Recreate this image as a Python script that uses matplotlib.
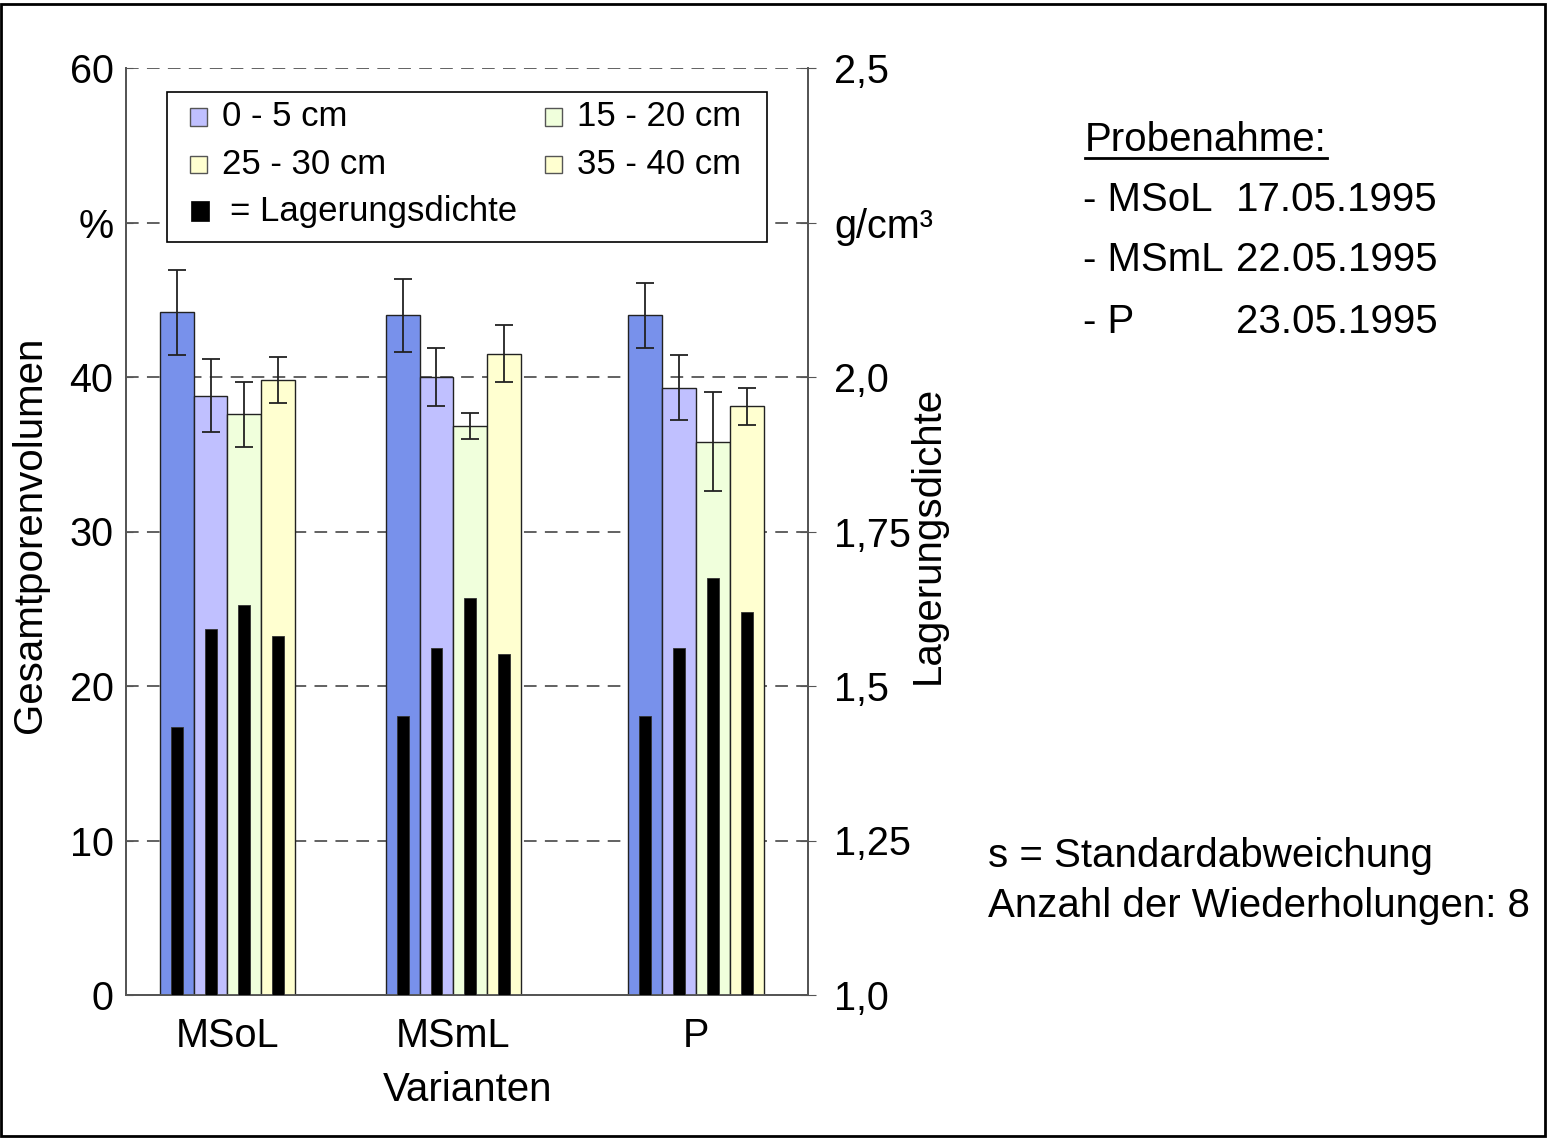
import matplotlib
matplotlib.use("Agg")
import matplotlib.pyplot as plt
from matplotlib.patches import Rectangle
from matplotlib.lines import Line2D

plt.rcParams.update({"font.family": ["Liberation Sans", "DejaVu Sans"], "font.size": 29,
                     "text.color": "black"})

# ---------- data ----------
varianten = ["MSoL", "MSmL", "P"]
tiefen = ["0 - 5 cm", "15 - 20 cm", "25 - 30 cm", "35 - 40 cm"]
# Gesamtporenvolumen (%) per depth, one value per Variante
gpv_0_5 = [44.2, 44.0, 44.0]
gpv_15_20 = [38.8, 40.0, 39.3]
gpv_25_30 = [37.6, 36.85, 35.8]
gpv_35_40 = [39.8, 41.5, 38.1]
# standard deviation (s)
s_0_5 = [2.75, 2.35, 2.1]
s_15_20 = [2.35, 1.9, 2.1]
s_25_30 = [2.1, 0.85, 3.2]
s_35_40 = [1.5, 1.85, 1.2]
# Lagerungsdichte (g/cm3)
ld_0_5 = [1.433, 1.451, 1.451]
ld_15_20 = [1.593, 1.562, 1.562]
ld_25_30 = [1.631, 1.643, 1.674]
ld_35_40 = [1.581, 1.551, 1.619]

gpv = [gpv_0_5, gpv_15_20, gpv_25_30, gpv_35_40]
sd = [s_0_5, s_15_20, s_25_30, s_35_40]
ld = [ld_0_5, ld_15_20, ld_25_30, ld_35_40]

left_ticks = [0, 10, 20, 30, 40, 50, 60]
left_labels = ["0", "10", "20", "30", "40", "%", "60"]
right_ticks = [1.0, 1.25, 1.5, 1.75, 2.0, 2.25, 2.5]
right_labels = ["1,0", "1,25", "1,5", "1,75", "2,0", "g/cm³", "2,5"]

# ---------- style / layout ----------
BAR_COLS = ["#7891eb", "#c0c0ff", "#f0ffdc", "#ffffd0"]
LEG_COLS = ["#c0c0ff", "#f0ffdc", "#ffffd0", "#ffffd0"]
GREY = "#555555"
centers = [0.0, 1.0, 2.073]      # group positions (P group sits a bit further right)
bw = 0.15
bw_black = 0.053

W, H = 1547, 1139
def fx(px): return px / W
def fy(py): return 1 - py / H

fig = plt.figure(figsize=(W / 100, H / 100), dpi=100)
ax = fig.add_axes([fx(126), fy(995), (808 - 126) / W, (995 - 68) / H])
ax2 = ax.twinx()

for i in range(4):
    xs = [c + (i - 1.5) * bw for c in centers]
    ax.bar(xs, gpv[i], width=bw, color=BAR_COLS[i], edgecolor="#222222", lw=1.0, zorder=3)
    ax.errorbar(xs, gpv[i], yerr=sd[i], fmt="none", ecolor="#222222", elinewidth=1.3,
                capsize=6.5, capthick=1.3, zorder=4)
    ax2.bar(xs, [v - 1.0 for v in ld[i]], bottom=1.0, width=bw_black, color="black",
            edgecolor="#333333", lw=0.6, zorder=3)

ax.set_xlim(-0.449, 2.569)
ax.set_ylim(0, 60)
ax2.set_ylim(1.0, 2.5)
ax.set_yticks(left_ticks)
ax.set_yticklabels(left_labels)
ax2.set_yticks(right_ticks)
ax2.set_yticklabels(right_labels)
ax.set_xticks(centers)
ax.set_xticklabels(varianten)
ax.tick_params(axis="x", length=0, pad=16, labelsize=28.5)
ax.tick_params(axis="y", direction="in", length=5, color=GREY, pad=9, labelsize=28.5)
ax2.tick_params(axis="y", direction="inout", length=12, color=GREY, pad=13, labelsize=28.5)
ax.grid(axis="y", ls=(0, (7, 4.6)), color=GREY, lw=1.3, zorder=0)
ax.set_axisbelow(True)

for a in (ax, ax2):
    a.spines["top"].set_visible(False)
    for s in ("left", "right", "bottom"):
        a.spines[s].set_color(GREY)
        a.spines[s].set_linewidth(1.3)

# legend box (drawn by hand to match the original layout)
fig.add_artist(Rectangle((fx(167), fy(242)), (767 - 167) / W, (242 - 92) / H,
                         transform=fig.transFigure, facecolor="white", edgecolor="black",
                         lw=1.2, zorder=5))
leg_items = [(190, 117, LEG_COLS[0], tiefen[0]), (545, 117, LEG_COLS[1], tiefen[1]),
             (190, 164, LEG_COLS[2], tiefen[2]), (545, 164, LEG_COLS[3], tiefen[3])]
for x0, yc, col, lab in leg_items:
    fig.add_artist(Rectangle((fx(x0), fy(yc + 8.5)), 17 / W, 17 / H, transform=fig.transFigure,
                             facecolor=col, edgecolor=GREY, lw=1.0, zorder=6))
    fig.text(fx(x0 + 32), fy(yc), lab, ha="left", va="center", fontsize=25, zorder=7)
fig.add_artist(Rectangle((fx(191), fy(221)), 18 / W, 20 / H, transform=fig.transFigure,
                         facecolor="black", edgecolor="black", lw=0.5, zorder=6))
fig.text(fx(230), fy(211), "= Lagerungsdichte", ha="left", va="center", fontsize=25, zorder=7)

# axis titles
fig.text(fx(30), fy(535), "Gesamtporenvolumen", rotation=90, ha="center", va="center")
fig.text(fx(928), fy(535), "Lagerungsdichte", rotation=90, ha="center", va="center")
fig.text(fx(468), fy(1090), "Varianten", ha="center", va="center")

# side notes
fig.text(fx(1085), fy(140), "Probenahme:", ha="left", va="center")
fig.add_artist(Line2D([fx(1085), fx(1327)], [fy(158), fy(158)], color="black", lw=2))
rows = [("- MSoL", "17.05.1995"), ("- MSmL", "22.05.1995"), ("- P", "23.05.1995")]
for (name, date), y in zip(rows, [200, 260, 322]):
    fig.text(fx(1083), fy(y), name, ha="left", va="center")
    fig.text(fx(1236), fy(y), date, ha="left", va="center")
fig.text(fx(988), fy(856), "s = Standardabweichung", ha="left", va="center")
fig.text(fx(988), fy(906), "Anzahl der Wiederholungen: 8", ha="left", va="center")

# outer frame
fig.add_artist(Rectangle((1 / W, 3 / H), (W - 3) / W, (H - 7) / H, transform=fig.transFigure,
                         fill=False, edgecolor="black", lw=2))

fig.savefig("out.png", dpi=100)
